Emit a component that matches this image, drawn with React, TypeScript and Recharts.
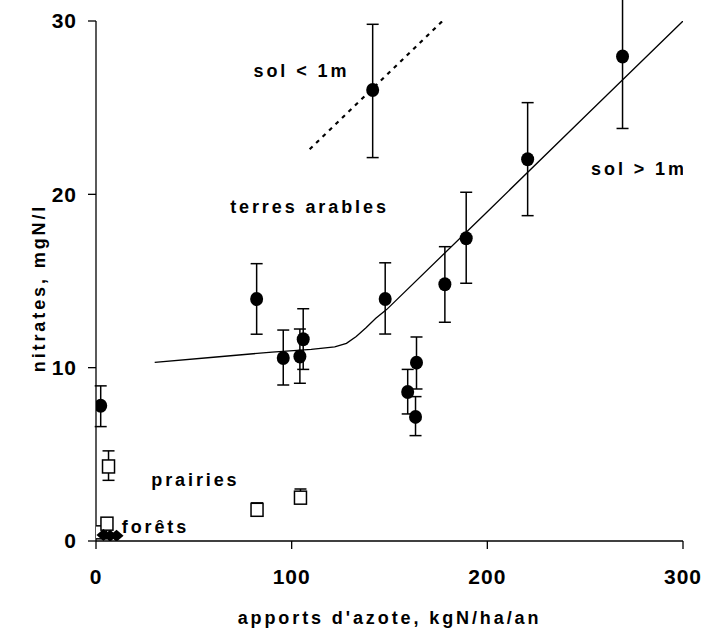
import React from 'react';
import { ScatterChart, Scatter, XAxis, YAxis, ErrorBar, Label } from 'recharts';

// terres arables (filled circles)
const arableX = [2.4, 82.1, 95.7, 104.2, 105.9, 141.4, 147.8, 159.3, 163.8, 163.3, 178.3, 189.2, 220.6, 269.1];
const arableY = [7.8, 13.96, 10.56, 10.64, 11.64, 26.02, 13.96, 8.6, 10.29, 7.16, 14.81, 17.47, 22.02, 27.95];
const arableLo = [6.6, 11.93, 9.0, 9.1, 9.9, 22.12, 11.94, 7.33, 8.77, 6.08, 12.62, 14.87, 18.77, 23.8];
const arableHi = [8.95, 16.0, 12.17, 12.23, 13.4, 29.81, 16.05, 9.9, 11.77, 8.33, 16.98, 20.12, 25.29, 32.0];

// prairies (open squares) with error bars
const prairieX = [6.4, 82.3, 104.5];
const prairieY = [4.3, 1.8, 2.5];
const prairieLo = [3.5, 1.6, 2.2];
const prairieHi = [5.2, 2.2, 3.0];

// prairies without visible error bars
const prairie2X = [2.3, 5.6];
const prairie2Y = [0.5, 1.0];

// forêts (black diamonds)
const forestX = [3.8, 7.2, 10.5];
const forestY = [0.35, 0.3, 0.3];

// fitted line (sol > 1m)
const fitX = [30, 60, 90, 110, 122, 128, 133, 138, 143, 148.5, 200, 250, 300];
const fitY = [10.3, 10.6, 10.9, 11.05, 11.2, 11.4, 11.8, 12.3, 12.85, 13.35, 19.0, 24.5, 30];

// dotted line (sol < 1m)
const dotX = [109.2, 178];
const dotY = [22.6, 30.1];

// annotations
const noteText = ['sol < 1m', 'terres arables', 'sol > 1m', 'prairies', 'forêts'];
const noteX = [105.0, 109.1, 277.5, 50.8, 30.4];
const noteY = [27.12, 19.27, 21.47, 3.54, 0.81];

const xTicks = [0, 100, 200, 300];
const yTicks = [0, 10, 20, 30];

const FONT = '"Liberation Sans", Arial, sans-serif';

const arableData = arableX.map((x, i) => ({ x, y: arableY[i], err: [arableY[i] - arableLo[i], arableHi[i] - arableY[i]] }));
const prairieData = prairieX.map((x, i) => ({ x, y: prairieY[i], err: [prairieY[i] - prairieLo[i], prairieHi[i] - prairieY[i]] }));
const prairie2Data = prairie2X.map((x, i) => ({ x, y: prairie2Y[i] }));
const forestData = forestX.map((x, i) => ({ x, y: forestY[i] }));
const fitData = fitX.map((x, i) => ({ x, y: fitY[i] }));
const dotData = dotX.map((x, i) => ({ x, y: dotY[i] }));
const noteData = noteText.map((label, i) => ({ x: noteX[i], y: noteY[i], label }));

const textStyle: React.CSSProperties = { fontFamily: FONT, fontWeight: 700, fontSize: 18, letterSpacing: 2.9, fill: '#000' };
const tickStyle: React.CSSProperties = { fontFamily: FONT, fontWeight: 700, fontSize: 21, letterSpacing: 1, fill: '#000' };

const Circle = (p: any) => <ellipse cx={p.cx} cy={p.cy} rx={6.5} ry={7} fill="#000" />;
const Square = (p: any) => (
  <rect x={p.cx - 6} y={p.cy - 6.5} width={12} height={13} fill="#fff" stroke="#000" strokeWidth={1.5} />
);
const Diamond = (p: any) => (
  <polygon points={`${p.cx - 7},${p.cy} ${p.cx},${p.cy - 6} ${p.cx + 7},${p.cy} ${p.cx},${p.cy + 6}`} fill="#000" />
);
const Empty = () => <g />;
const Note = (p: any) => (
  <text x={p.cx} y={p.cy} dy="0.35em" textAnchor="middle" style={textStyle}>
    {p.payload.label}
  </text>
);

const XTick = (p: any) => (
  <text x={p.x} y={p.y} dy="0.71em" textAnchor="middle" style={tickStyle}>
    {p.payload.value}
  </text>
);
const YTick = (p: any) => (
  <text x={p.x} y={p.y} dy="0.355em" textAnchor="end" style={tickStyle}>
    {p.payload.value}
  </text>
);

const XTitle = (p: any) => {
  const vb = p.viewBox || {};
  return (
    <text x={vb.x + vb.width / 2} y={vb.y + 83} textAnchor="middle" style={textStyle}>
      apports d'azote, kgN/ha/an
    </text>
  );
};
const YTitle = (p: any) => {
  const vb = p.viewBox || {};
  const cx = 45;
  const cy = vb.y + vb.height / 2 + 7;
  return (
    <text x={cx} y={cy} textAnchor="middle" transform={`rotate(-90 ${cx} ${cy})`} style={textStyle}>
      nitrates, mgN/l
    </text>
  );
};

export default function App() {
  return (
    <div style={{ position: 'absolute', left: 0, top: 0, background: '#fff' }}>
      <ScatterChart width={711} height={632} margin={{ top: 21, right: 28, bottom: 0, left: 0 }}>
        <XAxis
          type="number"
          dataKey="x"
          domain={[0, 300]}
          ticks={xTicks}
          allowDataOverflow
          height={91}
          tickSize={8}
          tickMargin={20}
          tick={XTick}
          stroke="#000"
          strokeWidth={1.3}
          tickLine={{ stroke: '#000', strokeWidth: 1.3 }}
        >
          <Label content={XTitle} />
        </XAxis>
        <YAxis
          type="number"
          dataKey="y"
          domain={[0, 30]}
          ticks={yTicks}
          allowDataOverflow
          width={96}
          tickSize={8}
          tickMargin={11}
          tick={YTick}
          stroke="#000"
          strokeWidth={1.3}
          tickLine={{ stroke: '#000', strokeWidth: 1.3 }}
        >
          <Label content={YTitle} />
        </YAxis>
        <Scatter data={fitData} line={{ stroke: '#000', strokeWidth: 1.3 }} shape={Empty} isAnimationActive={false} />
        <Scatter data={dotData} line={{ stroke: '#000', strokeWidth: 2.2, strokeDasharray: '4 5' }} shape={Empty} isAnimationActive={false} />
        <Scatter data={prairie2Data} shape={Square} isAnimationActive={false} />
        <Scatter data={prairieData} shape={Square} isAnimationActive={false}>
          <ErrorBar dataKey="err" direction="y" width={6} stroke="#000" strokeWidth={1.5} />
        </Scatter>
        <Scatter data={forestData} shape={Diamond} isAnimationActive={false} />
        <Scatter data={arableData} shape={Circle} isAnimationActive={false}>
          <ErrorBar dataKey="err" direction="y" width={6} stroke="#000" strokeWidth={1.5} />
        </Scatter>
        <Scatter data={noteData} shape={Note} isAnimationActive={false} />
      </ScatterChart>
    </div>
  );
}
